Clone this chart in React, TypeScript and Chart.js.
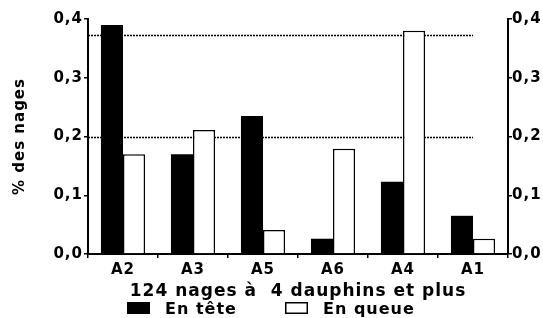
import React, { useEffect, useRef } from "react";
import { Chart, registerables } from "chart.js";

Chart.register(...registerables);

const categories = ["A2", "A3", "A5", "A6", "A4", "A1"];
const enTete = [0.39, 0.17, 0.235, 0.026, 0.123, 0.065];
const enQueue = [0.17, 0.211, 0.041, 0.179, 0.38, 0.026];
const refLevels = [0.2, 0.373];
const yTicks = [0, 0.1, 0.2, 0.3, 0.4];
const seriesLabels = ["En tête", "En queue"];
const xTitle = "124 nages à  4 dauphins et plus";
const yTitle = "% des nages";

const FONT = "'DejaVu Sans', sans-serif";

const fmt = (v: number) => v.toFixed(1).replace(".", ",");

export default function App() {
  const ref = useRef<HTMLCanvasElement | null>(null);
  useEffect(() => {
    document.body.style.margin = "0";
    const canvas = ref.current!;
    const spacing = {
      id: "spacing",
      beforeDraw(chart: any) {
        chart.ctx.letterSpacing = "1px";
      },
    };
    const dotted = {
      id: "dotted",
      beforeDatasetsDraw(chart: any) {
        const { ctx, chartArea, scales } = chart;
        const x0 = chartArea.left;
        const x1 = scales.x.getPixelForValue(categories.length - 1);
        ctx.save();
        ctx.strokeStyle = "#000";
        ctx.lineWidth = 1.5;
        ctx.setLineDash([2, 1]);
        refLevels.forEach((v) => {
          const y = Math.round(scales.y.getPixelForValue(v)) + 0.5;
          ctx.beginPath();
          ctx.moveTo(x0, y);
          ctx.lineTo(x1, y);
          ctx.stroke();
        });
        ctx.restore();
      },
    };
    const legend = {
      id: "customLegend",
      afterDraw(chart: any) {
        const { ctx } = chart;
        const items = [
          { box: 127, text: 165, fill: "#000" },
          { box: 285, text: 323, fill: "#fff" },
        ];
        ctx.save();
        ctx.font = `bold 16px ${FONT}`;
        ctx.textBaseline = "middle";
        ctx.fillStyle = "#000";
        items.forEach((it, i) => {
          ctx.fillStyle = it.fill;
          ctx.fillRect(it.box, 302, 23, 12);
          ctx.strokeStyle = "#000";
          ctx.lineWidth = 1.5;
          ctx.strokeRect(it.box + 0.75, 302.75, 21.5, 10.5);
          ctx.fillStyle = "#000";
          ctx.fillText(seriesLabels[i], it.text, 310);
        });
        ctx.restore();
      },
    };
    const tickFont = { family: FONT, size: 15, weight: "bold" as const };
    const chart = new Chart(canvas, {
      type: "bar",
      data: {
        labels: categories,
        datasets: [
          {
            label: seriesLabels[0],
            data: enTete,
            backgroundColor: "#000",
            borderColor: "#000",
            borderWidth: 0,
            categoryPercentage: 0.63,
            barPercentage: 1,
          },
          {
            label: seriesLabels[1],
            data: enQueue,
            backgroundColor: "#fff",
            borderColor: "#000",
            borderWidth: 1.5,
            borderSkipped: "bottom",
            categoryPercentage: 0.63,
            barPercentage: 1,
          },
        ],
      },
      options: {
        animation: false,
        responsive: false,
        maintainAspectRatio: false,
        layout: { padding: { top: 19, bottom: 16, left: 0, right: 0 } },
        plugins: { legend: { display: false }, tooltip: { enabled: false } },
        scales: {
          x: {
            grid: {
              offset: true,
              drawOnChartArea: false,
              drawTicks: true,
              tickLength: 4,
              color: "#000",
              lineWidth: 1.5,
            },
            border: { color: "#000", width: 2 },
            ticks: { color: "#000", font: tickFont, padding: 3, maxRotation: 0 },
            title: {
              display: true,
              text: xTitle,
              color: "#000",
              font: { family: FONT, size: 17, weight: "bold" },
              padding: 0,
            },
            afterFit(scale: any) {
              scale.height = 48;
            },
          },
          y: {
            position: "left",
            min: 0,
            max: 0.4,
            afterBuildTicks(scale: any) {
              scale.ticks = yTicks.map((v) => ({ value: v }));
            },
            ticks: { color: "#000", font: tickFont, padding: 1, callback: (v: any) => fmt(Number(v)) },
            grid: { drawOnChartArea: false, tickLength: 4, color: "#000", lineWidth: 1.5 },
            border: { color: "#000", width: 2 },
            title: {
              display: true,
              text: yTitle,
              color: "#000",
              font: { family: FONT, size: 15, weight: "bold" },
              padding: { top: 11, bottom: 0 },
            },
            afterFit(scale: any) {
              scale.width = 88;
            },
          },
          y2: {
            position: "right",
            min: 0,
            max: 0.4,
            afterBuildTicks(scale: any) {
              scale.ticks = yTicks.map((v) => ({ value: v }));
            },
            ticks: { color: "#000", font: tickFont, padding: 0, callback: (v: any) => fmt(Number(v)) },
            grid: { drawOnChartArea: false, tickLength: 4, color: "#000", lineWidth: 1.5 },
            border: { color: "#000", width: 2 },
            afterFit(scale: any) {
              scale.width = 35;
            },
          },
        },
      },
      plugins: [spacing, dotted, legend],
    });
    return () => chart.destroy();
  }, []);
  return (
    <div style={{ position: "fixed", left: 0, top: 0, width: 543, height: 318, background: "#fff" }}>
      <canvas ref={ref} width={543} height={318} style={{ width: 543, height: 318, display: "block" }} />
    </div>
  );
}
